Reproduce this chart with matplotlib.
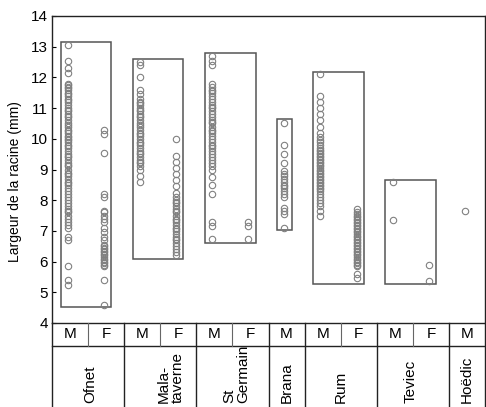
import matplotlib
matplotlib.use("Agg")
import matplotlib.pyplot as plt
from matplotlib.patches import Rectangle

plt.rcParams['font.family'] = ['Liberation Sans', 'DejaVu Sans']

# ---------------- data ----------------
sexes = ["M", "F", "M", "F", "M", "F", "M", "M", "F", "M", "F", "M"]
sites = ["Ofnet", "Mala-\ntaverne", "St\nGermain", "Brana", "Rum", "Teviec", "Hoëdic"]
site_ncols = [2, 2, 2, 1, 2, 2, 1]

ofnet_m = [13.05, 12.55, 12.3, 12.15, 11.8, 11.75, 11.7, 11.65, 11.6, 11.5, 11.45, 11.4, 11.3,
           11.25, 11.2, 11.1, 11.0, 10.95, 10.9, 10.8, 10.75, 10.7, 10.6, 10.5, 10.45, 10.4,
           10.3, 10.25, 10.2, 10.1, 10.05, 10.0, 9.95, 9.9, 9.8, 9.75, 9.7, 9.6, 9.5, 9.45,
           9.4, 9.3, 9.2, 9.15, 9.1, 9.0, 8.9, 8.85, 8.8, 8.7, 8.6, 8.55, 8.5, 8.4, 8.3, 8.2,
           8.1, 8.0, 7.9, 7.8, 7.7, 7.65, 7.6, 7.5, 7.4, 7.3, 7.2, 7.1, 6.8, 6.7, 5.85, 5.4, 5.25]
ofnet_f = [10.3, 10.15, 9.55, 8.2, 8.1, 7.65, 7.6, 7.5, 7.4, 7.3, 7.1, 6.95, 6.8, 6.7, 6.55,
           6.5, 6.45, 6.4, 6.35, 6.3, 6.25, 6.2, 6.15, 6.1, 6.05, 6.0, 5.95, 5.9, 5.85, 5.4, 4.6]
mala_m = [12.5, 12.4, 12.0, 11.6, 11.45, 11.3, 11.2, 11.15, 11.1, 11.0, 10.95, 10.9, 10.8,
          10.75, 10.7, 10.6, 10.5, 10.45, 10.4, 10.3, 10.2, 10.15, 10.1, 10.0, 9.9, 9.85, 9.8,
          9.7, 9.6, 9.55, 9.5, 9.4, 9.3, 9.25, 9.2, 9.1, 9.0, 8.8, 8.6]
mala_f = [10.0, 9.45, 9.25, 9.05, 8.85, 8.65, 8.45, 8.25, 8.1, 8.0, 7.95, 7.9, 7.8, 7.7, 7.65,
          7.6, 7.5, 7.4, 7.35, 7.3, 7.2, 7.1, 7.05, 7.0, 6.9, 6.8, 6.75, 6.7, 6.6, 6.5, 6.4,
          6.3, 6.2]
stg_m = [12.7, 12.55, 12.4, 11.8, 11.7, 11.6, 11.55, 11.5, 11.4, 11.3, 11.2, 11.1, 11.05, 11.0,
         10.9, 10.8, 10.7, 10.6, 10.55, 10.5, 10.4, 10.3, 10.25, 10.2, 10.1, 10.0, 9.9, 9.8,
         9.75, 9.7, 9.6, 9.5, 9.4, 9.3, 9.2, 9.1, 9.0, 8.75, 8.5, 8.2, 7.3, 7.15, 6.75]
stg_f = [7.3, 7.15, 6.75]
brana_m = [10.5, 9.8, 9.5, 9.2, 8.95, 8.85, 8.8, 8.7, 8.6, 8.5, 8.45, 8.4, 8.3, 8.2, 8.1,
           7.75, 7.65, 7.55, 7.1]
rum_m = [12.1, 11.4, 11.2, 11.0, 10.8, 10.6, 10.4, 10.2, 10.05, 9.95, 9.9, 9.8, 9.7, 9.65, 9.6,
         9.55, 9.5, 9.45, 9.4, 9.35, 9.3, 9.25, 9.2, 9.15, 9.1, 9.05, 9.0, 8.95, 8.9, 8.85, 8.8,
         8.75, 8.7, 8.65, 8.6, 8.55, 8.5, 8.45, 8.4, 8.35, 8.3, 8.2, 8.1, 8.0, 7.9, 7.8, 7.65, 7.5]
rum_f = [7.7, 7.6, 7.55, 7.5, 7.45, 7.4, 7.35, 7.3, 7.25, 7.2, 7.15, 7.1, 7.05, 7.0, 6.95, 6.9,
         6.85, 6.8, 6.75, 6.7, 6.65, 6.6, 6.55, 6.5, 6.45, 6.4, 6.35, 6.3, 6.25, 6.2, 6.15, 6.1,
         6.05, 6.0, 5.95, 5.9, 5.85, 5.6, 5.45]
teviec_m = [8.58, 7.36]
teviec_f = [5.9, 5.38]
hoedic_m = [7.66]

groups = [ofnet_m, ofnet_f, mala_m, mala_f, stg_m, stg_f, brana_m, rum_m, rum_f,
          teviec_m, teviec_f, hoedic_m]

# site range boxes (low, high), None where no box
range_low = [4.52, 6.08, 6.60, 7.02, 5.27, 5.27, None]
range_high = [13.14, 12.59, 12.78, 10.63, 12.19, 8.66, None]

# ---------------- layout ----------------
W, H = 486, 407
fig = plt.figure(figsize=(W / 100, H / 100), dpi=100)
ax_l, ax_r, ax_t, ax_b = 52, 485, 16, 323
ax = fig.add_axes([ax_l / W, 1 - ax_b / H, (ax_r - ax_l) / W, (ax_b - ax_t) / H])
ax.set_xlim(0, len(sexes))
ax.set_ylim(4, 14)
ax.set_xticks([])
ax.set_yticks(range(4, 15))
ax.tick_params(axis='y', direction='in', length=3, labelsize=11, pad=3, width=0.8)
for s in ax.spines.values():
    s.set_linewidth(1.0)
    s.set_color('#222222')

xoff = -0.06
pad = 0.2
col_x = [i + 0.5 + xoff for i in range(len(sexes))]
for x, vals in zip(col_x, groups):
    ax.plot([x] * len(vals), vals, linestyle='none', marker='o', markersize=4.6,
            markerfacecolor='none', markeredgecolor='#808080', markeredgewidth=0.8)

start = 0
site_centers = []
for n, lo, hi in zip(site_ncols, range_low, range_high):
    site_centers.append(start + n / 2)
    if lo is not None:
        x0 = col_x[start] - pad
        x1 = col_x[start + n - 1] + pad
        ax.add_patch(Rectangle((x0, lo), x1 - x0, hi - lo, fill=False,
                               edgecolor='#555555', linewidth=1.1))
    start += n

fig.text(15 / W, 1 - 182 / H, 'Largeur de la racine (mm)', rotation=90,
         ha='center', va='center', fontsize=10)

# ---------------- table below ----------------
tax = fig.add_axes([ax_l / W, 0, (ax_r - ax_l) / W, 1 - ax_b / H])
tax.set_xlim(0, len(sexes))
tb_top = H - ax_b
row_sep = H - 346
tax.set_ylim(0, tb_top)
tax.axis('off')
lc = '#222222'
tax.plot([0, len(sexes)], [row_sep, row_sep], color=lc, lw=1.0, clip_on=False)
tax.plot([0, 0], [0, tb_top], color=lc, lw=1.0, clip_on=False)
tax.plot([len(sexes)] * 2, [0, tb_top], color=lc, lw=1.0, clip_on=False)
bounds = [sum(site_ncols[:k + 1]) for k in range(len(site_ncols) - 1)]
for i in range(1, len(sexes)):
    if i in bounds:
        tax.plot([i, i], [0, tb_top], color=lc, lw=1.0, clip_on=False)
    else:
        tax.plot([i, i], [row_sep, tb_top], color='#666666', lw=0.8, clip_on=False)
for i, s in enumerate(sexes):
    tax.text(i + 0.5, (row_sep + tb_top) / 2, s, ha='center', va='center', fontsize=11)
label_dx = [0.05, 0.3, 0.1, 0.0, 0.0, -0.05, 0.0]
for c, name, dx in zip(site_centers, sites, label_dx):
    tax.text(c + dx, 4, name, rotation=90, ha='center', va='bottom',
             multialignment='left', fontsize=11, linespacing=1.0)

fig.savefig('out.png', dpi=100, facecolor='white')
